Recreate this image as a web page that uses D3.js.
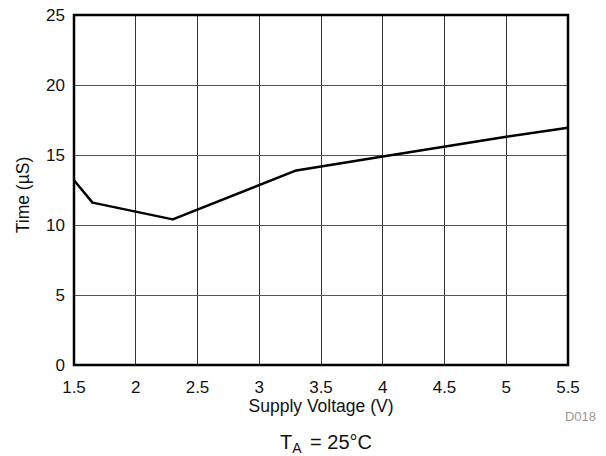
<!DOCTYPE html>
<html>
<head>
<meta charset="utf-8">
<script src="https://cdn.jsdelivr.net/npm/d3@7"></script>
<style>
  body { margin: 0; background: #fff; }
  svg { display: block; font-family: "Liberation Sans", Arial, Helvetica, sans-serif; }
</style>
</head>
<body>
<svg id="chart" width="606" height="456"></svg>
<script>
// Supply voltage (V) vs. time (µS) at TA = 25°C
const voltage = [1.5, 1.65, 2.3, 3.3, 4.0, 5.0, 5.5];
const timeUs  = [13.2, 11.6, 10.4, 13.9, 14.9, 16.3, 16.95];
const xTicks = [1.5, 2, 2.5, 3, 3.5, 4, 4.5, 5, 5.5];
const yTicks = [0, 5, 10, 15, 20, 25];

const svg = d3.select("#chart");
const m = { left: 74, top: 15, right: 568, bottom: 365 };

const x = d3.scaleLinear().domain([1.5, 5.5]).range([m.left, m.right]);
const y = d3.scaleLinear().domain([0, 25]).range([m.bottom, m.top]);

// grid
const grid = svg.append("g");
grid.selectAll("line.v").data(xTicks.slice(1, -1)).join("line")
  .attr("x1", d => x(d)).attr("x2", d => x(d))
  .attr("y1", m.top).attr("y2", m.bottom)
  .attr("stroke", "#333").attr("stroke-width", 1).attr("shape-rendering", "crispEdges");
grid.selectAll("line.h").data(yTicks.slice(1, -1)).join("line")
  .attr("y1", d => y(d)).attr("y2", d => y(d))
  .attr("x1", m.left).attr("x2", m.right)
  .attr("stroke", "#555").attr("stroke-width", 1).attr("shape-rendering", "crispEdges");

// data line
const line = d3.line().x((d, i) => x(voltage[i])).y(d => y(d));
svg.append("path").datum(timeUs)
  .attr("d", line).attr("fill", "none")
  .attr("stroke", "#000").attr("stroke-width", 2.5).attr("stroke-linejoin", "round");

// frame
svg.append("rect")
  .attr("x", m.left).attr("y", m.top)
  .attr("width", m.right - m.left).attr("height", m.bottom - m.top)
  .attr("fill", "none").attr("stroke", "#000").attr("stroke-width", 2.5);

// tick labels
svg.append("g").selectAll("text").data(xTicks).join("text")
  .attr("x", d => x(d)).attr("y", 393)
  .attr("text-anchor", "middle").attr("font-size", 17).attr("fill", "#111")
  .text(d => d);
svg.append("g").selectAll("text").data(yTicks).join("text")
  .attr("x", 65).attr("y", d => y(d) + 6)
  .attr("text-anchor", "end").attr("font-size", 17).attr("fill", "#111")
  .text(d => d);

// axis titles
svg.append("text").attr("x", 321).attr("y", 411.5)
  .attr("text-anchor", "middle").attr("font-size", 17.5).attr("fill", "#111")
  .text("Supply Voltage (V)");
svg.append("text")
  .attr("transform", "translate(29,195) rotate(-90)")
  .attr("text-anchor", "middle").attr("font-size", 17.5).attr("fill", "#111")
  .text("Time (µS)");

svg.append("text").attr("x", 596).attr("y", 420.5)
  .attr("text-anchor", "end").attr("font-size", 13).attr("fill", "#999")
  .text("D018");

// condition note
const note = svg.append("text").attr("x", 280).attr("y", 449)
  .attr("font-size", 20).attr("fill", "#111");
note.append("tspan").text("T");
note.append("tspan").attr("font-size", 14).attr("dy", 4).text("A");
note.append("tspan").attr("dy", -4).attr("dx", 3).text(" = 25°C");
</script>
</body>
</html>
